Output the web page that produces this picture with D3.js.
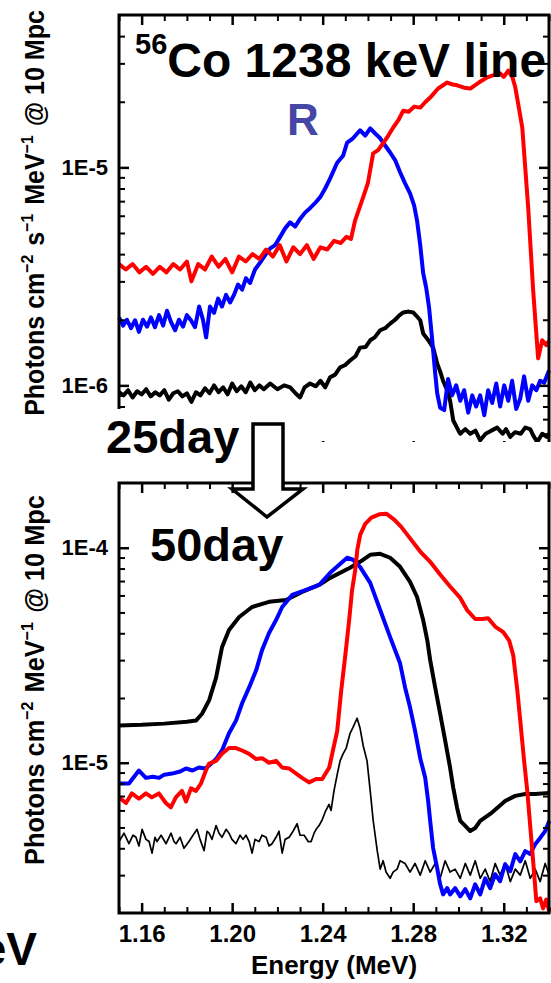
<!DOCTYPE html>
<html>
<head>
<meta charset="utf-8">
<script src="https://cdn.jsdelivr.net/npm/d3@7"></script>
<style>
  body { margin: 0; background: #fff; }
  svg { display: block; }
</style>
</head>
<body>
<div id="chart"></div>
<script>
// ---- data: [energy MeV, photons cm^-2 (s^-1) MeV^-1 @ 10 Mpc] ----
const energyDomain = [1.15, 1.34];
const xTickValues = [1.16, 1.20, 1.24, 1.28, 1.32];
const xTickLabels = ['1.16', '1.20', '1.24', '1.28', '1.32'];

const topDomain = [5e-7, 5e-5];
const topTickValues = [1e-6, 1e-5];
const topTickLabels = ['1E-6', '1E-5'];

const bottomDomain = [2e-6, 2e-4];
const bottomTickValues = [1e-5, 1e-4];
const bottomTickLabels = ['1E-5', '1E-4'];

// 25 day
const red25 = [[1.150,3.6e-6],[1.153,3.4e-6],[1.156,3.6e-6],[1.159,3.3e-6],[1.162,3.5e-6],[1.165,3.25e-6],[1.168,3.5e-6],[1.171,3.3e-6],[1.174,3.6e-6],[1.177,3.4e-6],[1.180,3.7e-6],[1.182,3.0e-6],[1.185,3.6e-6],[1.188,3.4e-6],[1.191,3.9e-6],[1.194,3.5e-6],[1.197,3.8e-6],[1.200,3.3e-6],[1.203,3.9e-6],[1.206,3.7e-6],[1.209,4.0e-6],[1.212,3.8e-6],[1.215,4.2e-6],[1.218,3.9e-6],[1.221,4.4e-6],[1.224,3.7e-6],[1.227,4.3e-6],[1.230,4.0e-6],[1.233,4.4e-6],[1.236,3.8e-6],[1.239,4.3e-6],[1.242,4.2e-6],[1.245,4.6e-6],[1.248,4.5e-6],[1.2505,4.8e-6],[1.2525,4.7e-6],[1.2543,5.7e-6],[1.2579,7.3e-6],[1.2600,8.5e-6],[1.2623,1.16e-5],[1.2645,1.2e-5],[1.2667,1.29e-5],[1.2690,1.4e-5],[1.2711,1.52e-5],[1.2735,1.65e-5],[1.2756,1.82e-5],[1.2780,1.8e-5],[1.2805,1.9e-5],[1.2831,1.88e-5],[1.2855,2.0e-5],[1.2875,2.09e-5],[1.2910,2.3e-5],[1.2950,2.45e-5],[1.2975,2.4e-5],[1.2994,2.38e-5],[1.3025,2.32e-5],[1.3052,2.30e-5],[1.3090,2.45e-5],[1.3127,2.59e-5],[1.3155,2.65e-5],[1.3184,2.70e-5],[1.3200,2.6e-5],[1.3220,2.78e-5],[1.3238,2.6e-5],[1.3251,2.33e-5],[1.3266,1.9e-5],[1.3282,1.52e-5],[1.3308,6.56e-6],[1.3330,2.73e-6],[1.3352,1.33e-6],[1.3370,1.61e-6],[1.3388,1.53e-6],[1.3400,1.6e-6]];

const blue25 = [[1.1500,2.05e-6],[1.1518,1.88e-6],[1.1535,2.0e-6],[1.1553,1.83e-6],[1.1571,1.99e-6],[1.1588,1.76e-6],[1.1606,2.0e-6],[1.1624,1.86e-6],[1.1641,2.05e-6],[1.1659,1.85e-6],[1.1677,2.1e-6],[1.1695,1.88e-6],[1.1712,2.2e-6],[1.1730,1.95e-6],[1.1748,1.79e-6],[1.1765,2.0e-6],[1.1783,1.86e-6],[1.1800,2.1e-6],[1.1818,1.99e-6],[1.1836,1.85e-6],[1.1854,2.3e-6],[1.1871,2.0e-6],[1.1885,1.66e-6],[1.1902,2.3e-6],[1.1920,2.15e-6],[1.1938,2.5e-6],[1.1955,2.3e-6],[1.1973,2.6e-6],[1.1991,2.4e-6],[1.2008,2.6e-6],[1.2026,2.9e-6],[1.2044,2.75e-6],[1.2061,3.1e-6],[1.2079,2.95e-6],[1.2101,3.4e-6],[1.2123,3.65e-6],[1.2145,3.95e-6],[1.2168,4.25e-6],[1.2190,4.4e-6],[1.2212,4.8e-6],[1.2234,5.25e-6],[1.2256,5.6e-6],[1.2278,5.35e-6],[1.2300,5.8e-6],[1.2322,6.2e-6],[1.2344,6.5e-6],[1.2366,6.85e-6],[1.2389,7.3e-6],[1.2411,8.0e-6],[1.2433,8.9e-6],[1.2464,1.05e-5],[1.2490,1.13e-5],[1.2508,1.30e-5],[1.2534,1.36e-5],[1.2565,1.48e-5],[1.2588,1.40e-5],[1.2610,1.51e-5],[1.2632,1.43e-5],[1.2654,1.36e-5],[1.2676,1.26e-5],[1.2698,1.17e-5],[1.2720,1.08e-5],[1.2742,9.5e-6],[1.2764,8.45e-6],[1.2786,7.6e-6],[1.2804,6.7e-6],[1.2817,5.7e-6],[1.2831,4.4e-6],[1.2844,3.27e-6],[1.2857,2.82e-6],[1.2870,2.28e-6],[1.2884,1.61e-6],[1.2897,1.14e-6],[1.2906,9.2e-7],[1.2919,7.9e-7],[1.2937,7.7e-7],[1.2954,1.07e-6],[1.2972,9.0e-7],[1.2990,1.0e-6],[1.3008,8.5e-7],[1.3025,9.5e-7],[1.3043,7.5e-7],[1.3061,9.0e-7],[1.3078,8.0e-7],[1.3096,9.0e-7],[1.3114,7.3e-7],[1.3131,9.5e-7],[1.3149,8.3e-7],[1.3167,1.02e-6],[1.3184,8.0e-7],[1.3202,1.0e-6],[1.3220,8.5e-7],[1.3237,1.05e-6],[1.3255,7.8e-7],[1.3273,8.7e-7],[1.3290,1.1e-6],[1.3308,8.5e-7],[1.3326,1.0e-6],[1.3344,9.5e-7],[1.3361,1.05e-6],[1.3379,1.03e-6],[1.3400,1.17e-6]];

const black25 = [[1.150,9.3e-7],[1.152,9.0e-7],[1.154,9.5e-7],[1.156,8.8e-7],[1.158,9.4e-7],[1.160,9.1e-7],[1.162,9.6e-7],[1.164,8.9e-7],[1.166,9.3e-7],[1.168,9.0e-7],[1.170,9.5e-7],[1.172,8.6e-7],[1.174,9.2e-7],[1.176,9.4e-7],[1.178,8.9e-7],[1.180,9.2e-7],[1.182,8.4e-7],[1.184,9.3e-7],[1.186,9.0e-7],[1.188,9.7e-7],[1.190,9.2e-7],[1.192,1.0e-6],[1.194,9.3e-7],[1.196,9.8e-7],[1.198,9.1e-7],[1.200,1.02e-6],[1.202,9.4e-7],[1.204,9.9e-7],[1.206,9.3e-7],[1.208,1.03e-6],[1.210,9.5e-7],[1.212,1.0e-6],[1.214,9.6e-7],[1.2168,1.02e-6],[1.2200,9.6e-7],[1.2230,1.0e-6],[1.2256,9.8e-7],[1.2280,9.2e-7],[1.2300,8.8e-7],[1.2320,9.8e-7],[1.2344,1.02e-6],[1.2370,9.9e-7],[1.2390,1.05e-6],[1.2411,9.8e-7],[1.2433,1.09e-6],[1.2455,1.12e-6],[1.2477,1.21e-6],[1.2500,1.24e-6],[1.2521,1.30e-6],[1.2545,1.36e-6],[1.2565,1.49e-6],[1.2590,1.50e-6],[1.2610,1.61e-6],[1.2630,1.66e-6],[1.2654,1.79e-6],[1.2676,1.83e-6],[1.2698,1.92e-6],[1.2720,2.0e-6],[1.2740,2.1e-6],[1.2756,2.16e-6],[1.2780,2.18e-6],[1.2800,2.16e-6],[1.2815,2.08e-6],[1.2831,1.99e-6],[1.2844,1.73e-6],[1.2865,1.62e-6],[1.2888,1.49e-6],[1.2906,1.26e-6],[1.2920,1.15e-6],[1.2932,1.05e-6],[1.2950,9.5e-7],[1.2963,8.5e-7],[1.2977,6.9e-7],[1.3000,6.2e-7],[1.3008,6.0e-7],[1.3030,6.3e-7],[1.3052,6.0e-7],[1.3075,6.2e-7],[1.3096,5.6e-7],[1.3120,6.0e-7],[1.3145,6.2e-7],[1.3171,6.4e-7],[1.3195,6.0e-7],[1.3210,6.3e-7],[1.3229,5.8e-7],[1.3250,6.1e-7],[1.3275,6.0e-7],[1.3295,6.4e-7],[1.3317,6.3e-7],[1.3330,5.9e-7],[1.3348,5.5e-7],[1.3370,6.0e-7],[1.3390,5.8e-7],[1.3400,6.0e-7]];

// 50 day
const red50 = [[1.1500,6.9e-6],[1.1531,6.5e-6],[1.1557,7.2e-6],[1.1588,6.8e-6],[1.1619,7.2e-6],[1.1645,6.9e-6],[1.1676,7.2e-6],[1.1707,6.5e-6],[1.1729,6.2e-6],[1.1751,6.9e-6],[1.1778,7.4e-6],[1.1796,6.6e-6],[1.1818,7.6e-6],[1.1840,7.4e-6],[1.1862,8.0e-6],[1.1884,9.2e-6],[1.1898,9.9e-6],[1.1929,1.02e-5],[1.1955,1.10e-5],[1.1986,1.17e-5],[1.2017,1.17e-5],[1.2044,1.14e-5],[1.2075,1.10e-5],[1.2106,1.04e-5],[1.2132,1.05e-5],[1.2163,1.0e-5],[1.2194,1.02e-5],[1.2221,9.5e-6],[1.2252,9.4e-6],[1.2283,8.9e-6],[1.2309,8.5e-6],[1.2340,8.1e-6],[1.2371,8.4e-6],[1.2398,8.4e-6],[1.2429,9.5e-6],[1.2446,1.15e-5],[1.2464,1.4e-5],[1.2482,2.17e-5],[1.2500,3.16e-5],[1.2517,4.61e-5],[1.2530,6.37e-5],[1.2544,7.89e-5],[1.2553,9.79e-5],[1.2566,1.15e-4],[1.2588,1.29e-4],[1.2615,1.38e-4],[1.2650,1.43e-4],[1.2681,1.44e-4],[1.2716,1.35e-4],[1.2747,1.25e-4],[1.2782,1.12e-4],[1.2831,9.6e-5],[1.2875,8.6e-5],[1.2919,7.5e-5],[1.2963,6.6e-5],[1.3008,5.84e-5],[1.3038,5.13e-5],[1.3074,4.66e-5],[1.3105,4.66e-5],[1.3131,4.7e-5],[1.3162,4.3e-5],[1.3198,4.05e-5],[1.3224,3.7e-5],[1.3242,3.16e-5],[1.3260,2.17e-5],[1.3273,1.57e-5],[1.3290,1.02e-5],[1.3304,7.4e-6],[1.3317,5.08e-6],[1.3330,3.48e-6],[1.3344,2.27e-6],[1.3361,2.34e-6],[1.3374,2.1e-6],[1.3388,2.31e-6],[1.3401,2.03e-6]];

const blue50 = [[1.1500,8.0e-6],[1.1544,8.0e-6],[1.1588,9.2e-6],[1.1619,8.5e-6],[1.1650,8.6e-6],[1.1677,8.5e-6],[1.1700,8.8e-6],[1.1734,8.9e-6],[1.1770,9.1e-6],[1.1796,9.4e-6],[1.1825,9.2e-6],[1.1853,9.5e-6],[1.1880,9.4e-6],[1.1898,9.7e-6],[1.1929,1.04e-5],[1.1955,1.14e-5],[1.1986,1.37e-5],[1.2017,1.57e-5],[1.2044,1.89e-5],[1.2075,2.24e-5],[1.2106,2.69e-5],[1.2132,3.34e-5],[1.2163,4.01e-5],[1.2194,4.61e-5],[1.2221,5.30e-5],[1.2265,6.03e-5],[1.2327,6.37e-5],[1.2384,6.71e-5],[1.2433,7.64e-5],[1.2508,8.98e-5],[1.2534,8.79e-5],[1.2565,8.15e-5],[1.2610,6.86e-5],[1.2654,5.13e-5],[1.2698,3.84e-5],[1.2742,2.90e-5],[1.2764,2.24e-5],[1.2786,1.81e-5],[1.2808,1.41e-5],[1.2831,1.05e-5],[1.2853,8.51e-6],[1.2866,6.64e-6],[1.2875,5.36e-6],[1.2888,4.01e-6],[1.2906,3.23e-6],[1.2919,2.72e-6],[1.2932,2.44e-6],[1.2950,2.61e-6],[1.2963,2.44e-6],[1.2985,2.61e-6],[1.3008,2.39e-6],[1.3030,2.58e-6],[1.3052,2.34e-6],[1.3074,2.72e-6],[1.3096,2.44e-6],[1.3118,2.90e-6],[1.3140,2.61e-6],[1.3162,3.03e-6],[1.3184,2.81e-6],[1.3206,3.37e-6],[1.3229,3.13e-6],[1.3251,3.76e-6],[1.3273,3.48e-6],[1.3295,3.88e-6],[1.3317,3.76e-6],[1.3339,4.18e-6],[1.3361,4.47e-6],[1.3383,4.81e-6],[1.3401,5.36e-6]];

const black50 = [[1.150,1.49e-5],[1.160,1.50e-5],[1.170,1.52e-5],[1.180,1.55e-5],[1.184,1.57e-5],[1.1867,1.69e-5],[1.1898,1.95e-5],[1.1929,2.49e-5],[1.1955,3.44e-5],[1.1986,4.14e-5],[1.2031,4.76e-5],[1.2088,5.30e-5],[1.2163,5.60e-5],[1.2238,5.71e-5],[1.2309,6.23e-5],[1.2384,6.71e-5],[1.2433,7.24e-5],[1.2521,8.07e-5],[1.2565,8.6e-5],[1.2610,9.27e-5],[1.2654,9.37e-5],[1.2698,8.98e-5],[1.2742,8.15e-5],[1.2786,6.93e-5],[1.2817,5.90e-5],[1.2844,4.61e-5],[1.2862,3.72e-5],[1.2875,3.0e-5],[1.2897,2.24e-5],[1.2919,1.69e-5],[1.2941,1.27e-5],[1.2963,9.48e-6],[1.2977,7.64e-6],[1.2994,6.16e-6],[1.3008,5.36e-6],[1.3030,5.08e-6],[1.3052,4.81e-6],[1.3074,4.97e-6],[1.3096,5.36e-6],[1.3140,5.78e-6],[1.3171,6.16e-6],[1.3206,6.64e-6],[1.3251,7.01e-6],[1.3295,7.16e-6],[1.3339,7.16e-6],[1.3401,7.24e-6]];

const blackThin50 = [[1.1500,4.3e-6],[1.1522,4.7e-6],[1.1544,4.2e-6],[1.1562,4.6e-6],[1.1575,4.5e-6],[1.1588,4.1e-6],[1.1602,4.9e-6],[1.1619,4.4e-6],[1.1633,4.3e-6],[1.1646,3.8e-6],[1.1659,4.5e-6],[1.1668,4.3e-6],[1.1686,4.6e-6],[1.1708,4.2e-6],[1.1721,4.5e-6],[1.1730,4.7e-6],[1.1743,4.3e-6],[1.1752,4.2e-6],[1.1770,4.5e-6],[1.1787,4.0e-6],[1.1809,4.3e-6],[1.1827,4.6e-6],[1.1845,4.9e-6],[1.1858,4.4e-6],[1.1876,3.9e-6],[1.1889,4.8e-6],[1.1898,4.7e-6],[1.1911,4.4e-6],[1.1929,5.1e-6],[1.1942,4.7e-6],[1.1955,4.5e-6],[1.1973,4.9e-6],[1.1986,4.7e-6],[1.1999,4.4e-6],[1.2017,4.2e-6],[1.2035,4.6e-6],[1.2048,4.4e-6],[1.2061,4.6e-6],[1.2075,4.3e-6],[1.2088,3.8e-6],[1.2101,4.4e-6],[1.2119,4.3e-6],[1.2132,4.6e-6],[1.2150,4.5e-6],[1.2163,4.1e-6],[1.2176,4.2e-6],[1.2194,4.5e-6],[1.2207,4.8e-6],[1.2221,3.8e-6],[1.2234,4.4e-6],[1.2252,4.5e-6],[1.2269,4.8e-6],[1.2287,5.2e-6],[1.2300,4.6e-6],[1.2318,4.6e-6],[1.2336,4.3e-6],[1.2349,4.3e-6],[1.2362,4.7e-6],[1.2371,4.9e-6],[1.2384,5.1e-6],[1.2397,5.4e-6],[1.2411,5.9e-6],[1.2428,6.4e-6],[1.2437,6.0e-6],[1.2450,7.4e-6],[1.2464,8.8e-6],[1.2477,1.02e-5],[1.2490,1.10e-5],[1.2504,1.17e-5],[1.2521,1.37e-5],[1.2534,1.46e-5],[1.2552,1.61e-5],[1.2565,1.45e-5],[1.2579,1.2e-5],[1.2596,1.02e-5],[1.2610,7.4e-6],[1.2623,5.4e-6],[1.2641,3.9e-6],[1.2654,3.2e-6],[1.2667,3.5e-6],[1.2680,3.1e-6],[1.2698,2.9e-6],[1.2711,3.1e-6],[1.2729,3.2e-6],[1.2742,3.5e-6],[1.2764,3.4e-6],[1.2786,3.1e-6],[1.2808,3.4e-6],[1.2831,3.0e-6],[1.2853,3.5e-6],[1.2875,3.1e-6],[1.2897,3.4e-6],[1.2919,2.9e-6],[1.2941,3.5e-6],[1.2963,3.1e-6],[1.2985,3.2e-6],[1.3008,2.9e-6],[1.3030,3.4e-6],[1.3052,3.0e-6],[1.3074,3.5e-6],[1.3096,2.9e-6],[1.3118,3.2e-6],[1.3140,2.8e-6],[1.3162,3.4e-6],[1.3184,3.0e-6],[1.3206,3.4e-6],[1.3229,2.8e-6],[1.3251,3.2e-6],[1.3273,3.0e-6],[1.3295,3.5e-6],[1.3317,2.9e-6],[1.3339,3.2e-6],[1.3361,2.8e-6],[1.3383,3.4e-6],[1.3401,3.0e-6]];

// ---- drawing ----
var width = 551, height = 983;
var FONT = '"Liberation Sans", Arial, Helvetica, sans-serif';

var svg = d3.select('#chart').append('svg')
    .attr('width', width)
    .attr('height', height)
    .style('background', '#fff');

var x = d3.scaleLinear().domain(energyDomain).range([119, 549]);

var xMinor = d3.range(115, 135).filter(i => i % 4 !== 0).map(i => i / 100);

function logMinors(domain) {
    var out = [];
    for (var e = Math.floor(Math.log10(domain[0])); e <= Math.ceil(Math.log10(domain[1])); e++) {
        for (var m = 2; m <= 9; m++) {
            var v = m * Math.pow(10, e);
            if (v > domain[0] * 1.001 && v < domain[1] * 0.999) out.push(v);
        }
    }
    return out;
}

function styleAxis(sel, size, width) {
    sel.select('.domain').remove();
    sel.selectAll('line').attr('stroke', '#000').attr('stroke-width', width || 2.5);
    sel.selectAll('text')
        .attr('fill', '#000')
        .style('font-family', FONT)
        .style('font-weight', 'bold')
        .style('font-size', size + 'px');
}

function drawPanel(cfg) {
    var y = d3.scaleLog().domain(cfg.domain).range(cfg.range);
    var top = cfg.range[1], bottom = cfg.range[0];
    var g = svg.append('g');

    if (cfg.clipBottom) {
        svg.append('clipPath').attr('id', cfg.id + '-clip')
            .append('rect').attr('x', 0).attr('y', 0).attr('width', width).attr('height', cfg.clipBottom);
        g.attr('clip-path', 'url(#' + cfg.id + '-clip)');
    }

    // curves
    var line = d3.line().x(d => x(d[0])).y(d => y(d[1]));
    cfg.series.forEach(s => {
        g.append('path')
            .datum(s.data)
            .attr('d', line)
            .attr('fill', 'none')
            .attr('stroke', s.color)
            .attr('stroke-width', s.width)
            .attr('stroke-linejoin', 'round');
    });

    var minors = logMinors(cfg.domain);
    var labelMap = {};
    cfg.ticks.forEach((t, i) => { labelMap[t] = cfg.labels[i]; });

    // left axis
    g.append('g').attr('transform', 'translate(' + x.range()[0] + ',0)')
        .call(d3.axisLeft(y).tickValues(cfg.ticks).tickSize(-10).tickPadding(11).tickFormat(d => labelMap[d]))
        .call(s => styleAxis(s, 22));
    g.append('g').attr('transform', 'translate(' + x.range()[0] + ',0)')
        .call(d3.axisLeft(y).tickValues(minors).tickSize(-6).tickFormat(''))
        .call(s => styleAxis(s, 22, 2));
    // right axis
    g.append('g').attr('transform', 'translate(' + x.range()[1] + ',0)')
        .call(d3.axisRight(y).tickValues(cfg.ticks).tickSize(-10).tickFormat(''))
        .call(s => styleAxis(s, 22));
    g.append('g').attr('transform', 'translate(' + x.range()[1] + ',0)')
        .call(d3.axisRight(y).tickValues(minors).tickSize(-6).tickFormat(''))
        .call(s => styleAxis(s, 22, 2));
    // top axis
    g.append('g').attr('transform', 'translate(0,' + top + ')')
        .call(d3.axisTop(x).tickValues(xTickValues).tickSize(-10).tickFormat(''))
        .call(s => styleAxis(s, 24));
    g.append('g').attr('transform', 'translate(0,' + top + ')')
        .call(d3.axisTop(x).tickValues(xMinor).tickSize(-6).tickFormat(''))
        .call(s => styleAxis(s, 24, 2));
    // bottom axis
    g.append('g').attr('transform', 'translate(0,' + bottom + ')')
        .call(d3.axisBottom(x).tickValues(xTickValues).tickSize(-10).tickPadding(12)
            .tickFormat((d, i) => cfg.showXLabels ? xTickLabels[i] : ''))
        .call(s => styleAxis(s, 24));
    g.append('g').attr('transform', 'translate(0,' + bottom + ')')
        .call(d3.axisBottom(x).tickValues(xMinor).tickSize(-6).tickFormat(''))
        .call(s => styleAxis(s, 24, 2));

    // frame
    g.append('rect')
        .attr('x', x.range()[0]).attr('y', top)
        .attr('width', x.range()[1] - x.range()[0]).attr('height', bottom - top)
        .attr('fill', 'none').attr('stroke', '#000').attr('stroke-width', 3);
    return y;
}

// top panel: 25 day
drawPanel({
    id: 'p25',
    domain: topDomain,
    range: [451, 15],
    clipBottom: 442,
    ticks: topTickValues,
    labels: topTickLabels,
    showXLabels: false,
    series: [
        { data: black25, color: '#000000', width: 4 },
        { data: blue25, color: '#0000ff', width: 4 },
        { data: red25, color: '#ff0000', width: 4 }
    ]
});

// bottom panel: 50 day
drawPanel({
    id: 'p50',
    domain: bottomDomain,
    range: [913, 483],
    ticks: bottomTickValues,
    labels: bottomTickLabels,
    showXLabels: true,
    series: [
        { data: blackThin50, color: '#000000', width: 1.7 },
        { data: black50, color: '#000000', width: 4 },
        { data: blue50, color: '#0000ff', width: 4 },
        { data: red50, color: '#ff0000', width: 4 }
    ]
});

function bold(sel, size) {
    return sel.style('font-family', FONT).style('font-weight', 'bold').style('font-size', size + 'px');
}

// y axis titles, squeezed along the text direction to the reference length
function yTitle(cx, cy, len, parts) {
    var t = bold(svg.append('text'), 27)
        .attr('text-anchor', 'middle')
        .attr('fill', '#000');
    parts.forEach(p => {
        if (p.sup) {
            t.append('tspan').attr('dy', -11).style('font-size', '17px').text(p.sup);
            t.append('tspan').attr('dy', 11).text('\u200a');
        } else {
            t.append('tspan').text(p.text);
        }
    });
    var w = t.node().getBBox().width;
    var k = w > 0 ? len / w : 1;
    t.attr('transform', 'translate(' + cx + ',' + cy + ') rotate(-90) scale(' + k + ',1)');
}
yTitle(44, 213, 406, [{ text: 'Photons cm' }, { sup: '\u22122' }, { text: ' s' }, { sup: '\u22121' },
    { text: ' MeV' }, { sup: '\u22121' }, { text: ' @ 10 Mpc' }]);
yTitle(44, 680, 370, [{ text: 'Photons cm' }, { sup: '\u22122' }, { text: ' MeV' }, { sup: '\u22121' },
    { text: ' @ 10 Mpc' }]);

// x axis title
bold(svg.append('text'), 26)
    .attr('x', 334).attr('y', 974)
    .attr('text-anchor', 'middle')
    .attr('fill', '#000')
    .text('Energy (MeV)');

// panel title
var title = bold(svg.append('text'), 48).attr('x', 135).attr('y', 77).attr('fill', '#000');
title.append('tspan').attr('dy', -23).style('font-size', '29px').text('56');
title.append('tspan').attr('dy', 23).text('Co 1238 keV line');

bold(svg.append('text'), 44)
    .attr('x', 287).attr('y', 135)
    .attr('fill', '#4646a6')
    .text('R');

// cover the bottom of the 25 day panel where the label sits
svg.append('rect').attr('x', 100).attr('y', 409).attr('width', 152).attr('height', 60).attr('fill', '#fff');

bold(svg.append('text'), 47).attr('x', 106).attr('y', 453).attr('fill', '#000').text('25day');
bold(svg.append('text'), 47).attr('x', 150).attr('y', 561).attr('fill', '#000').text('50day');

// cut-off unit label at lower left
bold(svg.append('text'), 46).attr('x', 37).attr('y', 965).attr('text-anchor', 'end').attr('fill', '#000').text('MeV');

// hollow arrow from 25 day to 50 day
var arrow = [[253, 424], [283, 424], [283, 489], [303, 489], [267, 517], [232, 489], [253, 489]];
svg.append('path')
    .attr('d', d3.line()(arrow) + 'Z')
    .attr('fill', '#fff')
    .attr('stroke', '#000')
    .attr('stroke-width', 3.5)
    .attr('stroke-linejoin', 'miter');
</script>
</body>
</html>
